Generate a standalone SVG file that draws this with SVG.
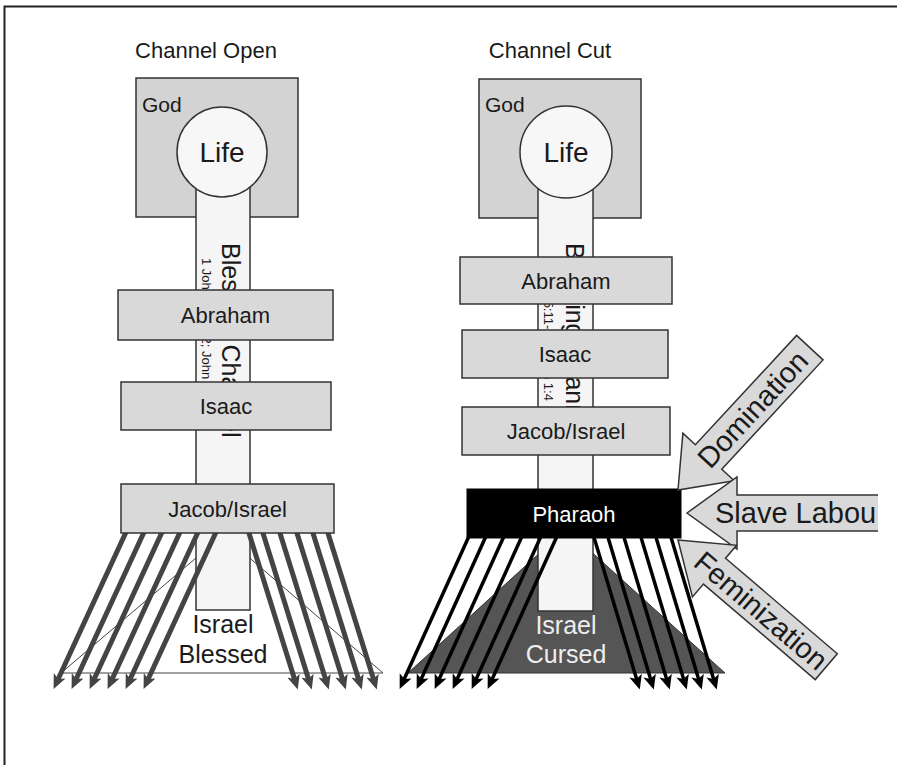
<svg xmlns="http://www.w3.org/2000/svg" width="897" height="765" viewBox="0 0 897 765">
<defs>
<style>
text{font-family:"Liberation Sans",Arial,sans-serif;fill:#1a1a1a}
.title{font-size:22px;text-anchor:middle}
.god{fill:#d3d3d3;stroke:#333;stroke-width:1.5}
.box{fill:#d9d9d9;stroke:#333;stroke-width:1.5}
.chan{fill:#f5f5f5;stroke:#333;stroke-width:1.5}
.life{fill:#f7f7f7;stroke:#333;stroke-width:1.5}
.lbl{font-size:22px;text-anchor:middle}
.godt{font-size:21px}
.lifet{font-size:28px;text-anchor:middle}
.big{font-size:25px}
.small{font-size:13px}
.ga{stroke:#444;stroke-width:5;fill:none;marker-end:url(#hg)}
.ba{stroke:#000;stroke-width:3.5;fill:none;marker-end:url(#hb)}
.blk{fill:#d9d9d9;stroke:#333;stroke-width:1.5}
.blt{font-size:29px}
.res{font-size:25px;text-anchor:middle}
</style>
<marker id="hg" markerUnits="userSpaceOnUse" markerWidth="15" markerHeight="14" refX="3.5" refY="7" orient="auto"><path d="M0,0.5 L14.5,7 L0,13.5 L3.5,7 z" fill="#444"/></marker>
<marker id="hb" markerUnits="userSpaceOnUse" markerWidth="15" markerHeight="14" refX="3.5" refY="7" orient="auto"><path d="M0,0.5 L14.5,7 L0,13.5 L3.5,7 z" fill="#000"/></marker>
<clipPath id="cl"><rect x="0" y="0" width="878" height="765"/></clipPath>
</defs>
<rect x="4.5" y="6.5" width="1000" height="1000" fill="none" stroke="#222" stroke-width="2"/>

<text class="title" x="206" y="58">Channel Open</text>
<text class="title" x="550" y="58">Channel Cut</text>

<!-- Left diagram -->
<g id="left-result">
<polygon points="223,535 61,673 383,673" fill="#fff" stroke="#444" stroke-width="1"/>
</g>
<g id="left-god">
<rect class="god" x="136" y="78" width="162" height="139"/>
<text class="godt" x="142" y="112">God</text>
</g>
<g id="left-channel">
<rect class="chan" x="196" y="150" width="54" height="460"/>
<text class="big" transform="translate(222,243) rotate(90)">Blessing Channel</text>
<text class="small" transform="translate(201.5,258) rotate(90)">1 John 5:11-12; John 1:4</text>
</g>
<g id="left-life">
<circle class="life" cx="222" cy="152" r="45"/>
<text class="lifet" x="222" y="162">Life</text>
</g>
<g id="left-connectors">
<line class="ga" x1="127" y1="530" x2="58.2" y2="679"/>
<line class="ga" x1="145" y1="530" x2="76.2" y2="679"/>
<line class="ga" x1="163" y1="530" x2="94.2" y2="679"/>
<line class="ga" x1="181" y1="530" x2="112.2" y2="679"/>
<line class="ga" x1="199" y1="530" x2="130.2" y2="679"/>
<line class="ga" x1="217" y1="530" x2="148.2" y2="679"/>
<line class="ga" x1="248" y1="530" x2="294.5" y2="679"/>
<line class="ga" x1="262" y1="530" x2="308.5" y2="679"/>
<line class="ga" x1="279" y1="530" x2="325.5" y2="679"/>
<line class="ga" x1="296" y1="530" x2="342.5" y2="679"/>
<line class="ga" x1="312" y1="530" x2="358.5" y2="679"/>
<line class="ga" x1="327" y1="530" x2="373.5" y2="679"/>
</g>
<g id="left-abraham"><rect class="box" x="118" y="290" width="215" height="50"/><text class="lbl" x="225.5" y="323">Abraham</text></g>
<g id="left-isaac"><rect class="box" x="121" y="382" width="210" height="48"/><text class="lbl" x="226" y="414">Isaac</text></g>
<g id="left-jacob"><rect class="box" x="121" y="484" width="213" height="49"/><text class="lbl" x="227.5" y="516.5">Jacob/Israel</text></g>
<g id="left-label"><text class="res" x="223" y="633">Israel</text><text class="res" x="223" y="663">Blessed</text></g>

<!-- Right diagram -->
<g id="right-result">
<polygon points="566,529 408,673 725,673" fill="#555" stroke="#333" stroke-width="1"/>
</g>
<g id="right-god">
<rect class="god" x="479" y="79" width="162" height="139"/>
<text class="godt" x="485" y="112">God</text>
</g>
<g id="right-channel">
<rect class="chan" x="538" y="150" width="55" height="461"/>
<text class="big" transform="translate(566,243) rotate(90)">Blessing Channel</text>
<text class="small" transform="translate(543.5,258) rotate(90)">1 John 5:11-12; John 1:4</text>
</g>
<g id="right-life">
<circle class="life" cx="566" cy="152" r="46"/>
<text class="lifet" x="566" y="162">Life</text>
</g>
<g id="right-connectors">
<line class="ba" x1="470" y1="534" x2="404.2" y2="679"/>
<line class="ba" x1="487" y1="534" x2="421.2" y2="679"/>
<line class="ba" x1="505" y1="534" x2="439.2" y2="679"/>
<line class="ba" x1="523" y1="534" x2="457.2" y2="679"/>
<line class="ba" x1="542" y1="534" x2="476.2" y2="679"/>
<line class="ba" x1="558" y1="534" x2="492.2" y2="679"/>
<line class="ba" x1="593" y1="534" x2="636.6" y2="679"/>
<line class="ba" x1="607" y1="534" x2="650.6" y2="679"/>
<line class="ba" x1="623" y1="534" x2="666.6" y2="679"/>
<line class="ba" x1="640" y1="534" x2="683.6" y2="679"/>
<line class="ba" x1="655" y1="534" x2="698.6" y2="679"/>
<line class="ba" x1="670" y1="534" x2="713.6" y2="679"/>
</g>
<g id="right-abraham"><rect class="box" x="460" y="257" width="212" height="47"/><text class="lbl" x="566" y="288.5">Abraham</text></g>
<g id="right-isaac"><rect class="box" x="462" y="330" width="206" height="48"/><text class="lbl" x="565" y="362">Isaac</text></g>
<g id="right-jacob"><rect class="box" x="462" y="407" width="208" height="48"/><text class="lbl" x="566" y="439">Jacob/Israel</text></g>
<g id="pharaoh"><rect x="467" y="489" width="214" height="49" fill="#000" stroke="#000"/><text class="lbl" x="574" y="521.5" style="fill:#fff">Pharaoh</text></g>
<g id="right-label"><text class="res" x="566" y="634" style="fill:#eee">Israel</text><text class="res" x="566" y="663" style="fill:#eee">Cursed</text></g>

<!-- Forces -->
<g id="domination" transform="translate(678,490) rotate(-47.2)">
<polygon class="blk" points="0,0 45,-35 45,-18 194,-18 194,18 45,18 45,35"/>
<text class="blt" x="110" y="10" text-anchor="middle">Domination</text>
</g>
<g id="slave-labour" clip-path="url(#cl)">
<polygon class="blk" points="687,513 737,477 737,495 900,495 900,531 737,531 737,549"/>
<text class="blt" x="715" y="523">Slave Labou</text>
</g>
<g id="feminization" transform="translate(678,540) rotate(40.5)">
<polygon class="blk" points="0,0 48,-34 48,-17 195,-17 195,17 48,17 48,34"/>
<text class="blt" x="109" y="10" text-anchor="middle">Feminization</text>
</g>
</svg>
